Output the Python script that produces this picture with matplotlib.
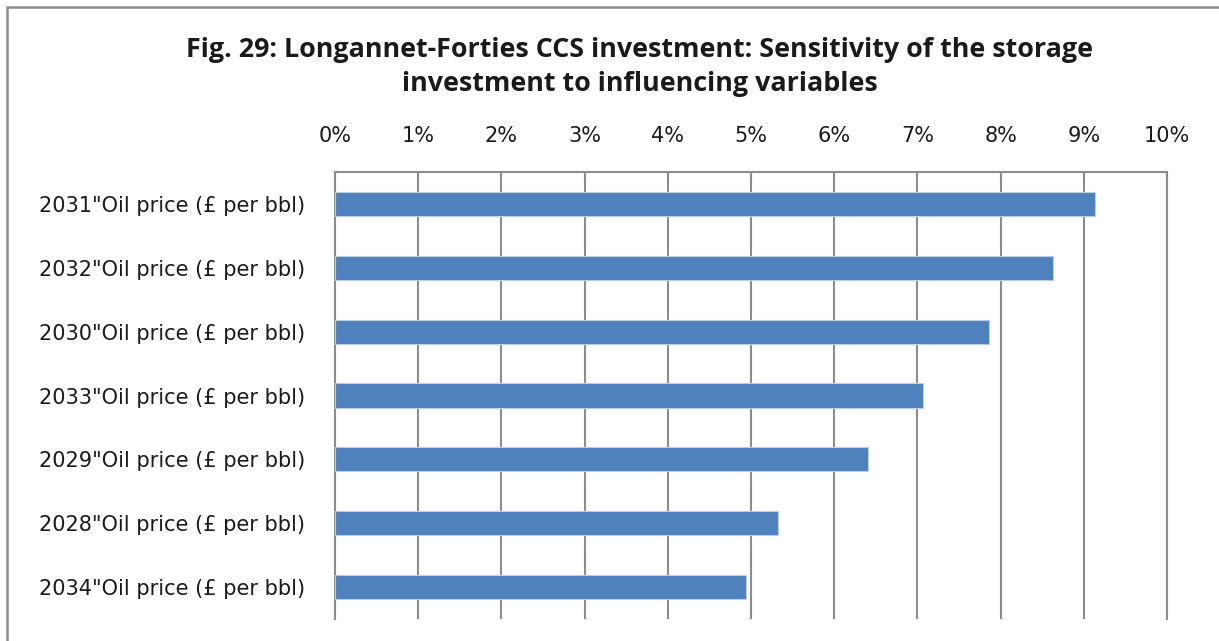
import numpy as np
import matplotlib
matplotlib.use("Agg")
import matplotlib.pyplot as plt
from matplotlib.patches import Rectangle
from matplotlib.ticker import FuncFormatter, MultipleLocator

# Sensitivity of storage investment, in percent, top bar first
categories = [
    '2031"Oil price (£ per bbl)',
    '2032"Oil price (£ per bbl)',
    '2030"Oil price (£ per bbl)',
    '2033"Oil price (£ per bbl)',
    '2029"Oil price (£ per bbl)',
    '2028"Oil price (£ per bbl)',
    '2034"Oil price (£ per bbl)',
]
sensitivity = [9.14, 8.63, 7.86, 7.07, 6.41, 5.33, 4.94]

title = ("Fig. 29: Longannet-Forties CCS investment: Sensitivity of the storage\n"
         "investment to influencing variables")

BAR_COLOR = "#4f81bd"
GRID_COLOR = "#8c8c8c"
TEXT_COLOR = "#1a1a1a"

fig = plt.figure(figsize=(12.19, 6.41), dpi=100)

# outer chart frame
fig.patches.append(Rectangle((7 / 1219, -0.05), 1.2, 1.05 - 7 / 641,
                             transform=fig.transFigure, fill=False,
                             edgecolor=GRID_COLOR, linewidth=1.8))

ax = fig.add_axes([335 / 1219, 1 - 619 / 641, (1167 - 335) / 1219, (619 - 172) / 641])

y = np.arange(len(categories))
ax.barh(y, sensitivity, height=0.38, color=BAR_COLOR, edgecolor="#b9cde5",
        linewidth=0.8, zorder=3)
ax.set_ylim(len(categories) - 0.5, -0.5)
ax.set_xlim(0, 10)

ax.xaxis.set_major_locator(MultipleLocator(1))
ax.xaxis.set_major_formatter(FuncFormatter(lambda v, _: f"{v:.0f}%"))
ax.xaxis.tick_top()
ax.tick_params(axis="x", length=0, pad=19, labelsize=15, labelcolor=TEXT_COLOR)
ax.set_yticks(y)
ax.set_yticklabels(categories, fontsize=15, color=TEXT_COLOR)
ax.tick_params(axis="y", length=0, pad=21.5)

ax.grid(axis="x", color=GRID_COLOR, linewidth=1.5, zorder=0)
for side in ["top", "bottom", "left", "right"]:
    ax.spines[side].set_color(GRID_COLOR)
    ax.spines[side].set_linewidth(1.5)
ax.spines["bottom"].set_visible(False)

fig.text(0.525, 1 - 67 / 641, title, ha="center", va="center", fontsize=19.4,
         fontweight="bold", family="Open Sans", linespacing=1.42, color=TEXT_COLOR)

fig.savefig("out.png", dpi=100)
